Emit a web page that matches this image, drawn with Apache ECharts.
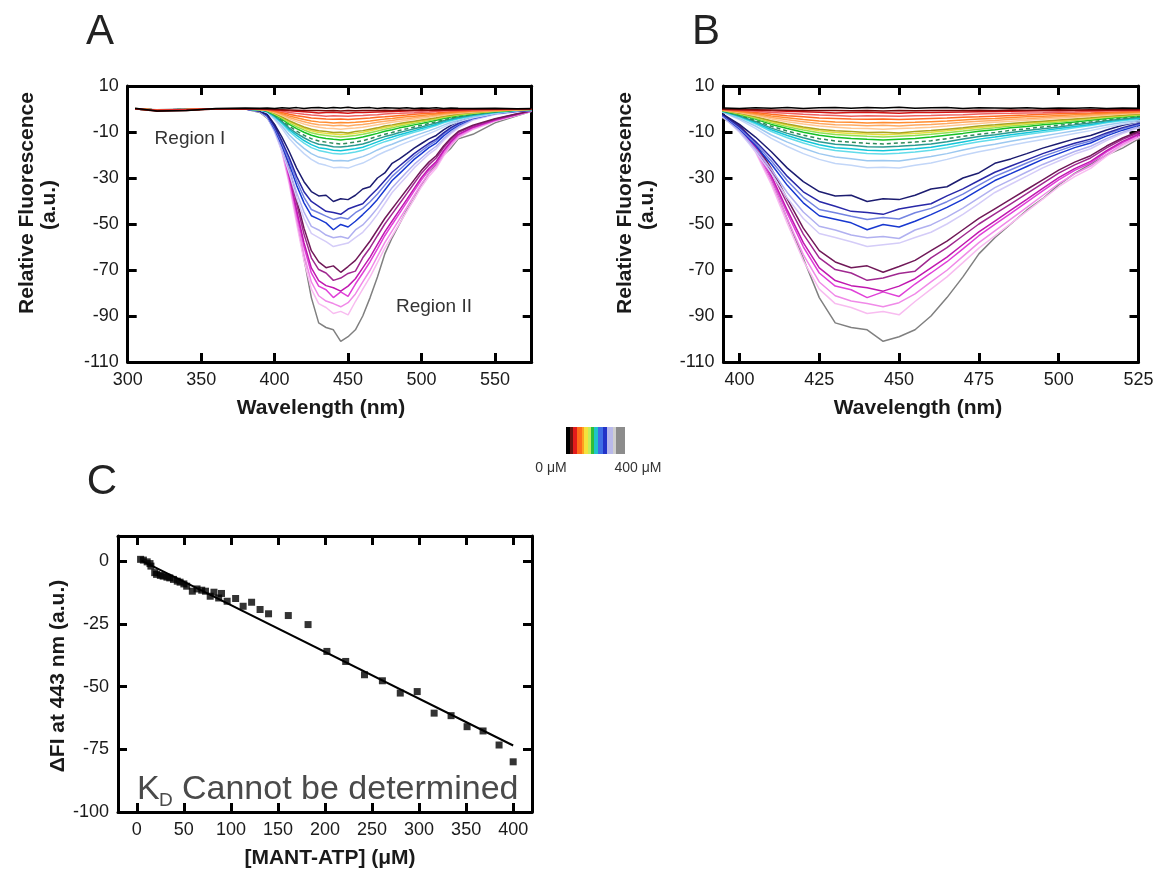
<!DOCTYPE html>
<html>
<head>
<meta charset="utf-8">
<script src="https://cdn.jsdelivr.net/npm/echarts@6/dist/echarts.min.js"></script>
<style>html,body{margin:0;padding:0;background:#fff;}#chart{width:1161px;height:877px;}</style>
</head>
<body>
<div id="chart"></div>
<script>
// ---------- DATA ----------
const wavelengths = [305,320,340,360,380,390,395,400,405,410,415,420,425,430,435,440,445,450,455,460,465,470,475,480,485,490,495,500,505,510,515,520,525,535,550,565,575];

const spec01 = [0.3,-0.9,-0.6,0.2,0.4, 0.3, 0.4,0.2,0.5,0.3,0.6,0.2,0.5,0.7,0.3,0.6,0.4,0.8,0.3,0.5,0.6,0.2,0.5,0.4,0.3,0.5,0.2,0.4,0.3,0.5,0.2,0.4,0.3, 0.2,0.3,0.1,0.2];
const spec02 = [0.1,-1.0,-0.6,0.0,0.1, 0.0, -0.1,-0.2,-0.3,-0.4,-0.5,-0.6,-0.7,-0.6,-0.8,-0.7,-0.9,-0.6,-0.8,-0.7,-0.6,-0.7,-0.5,-0.6,-0.4,-0.5,-0.4,-0.3,-0.4,-0.3,-0.2,-0.3,-0.2, -0.1,0.0,0.0,0.0];
const spec03 = [0.0,-0.6,-0.3,0.1,0.0, 0.0, -0.1,-0.3,-0.5,-0.8,-1.0,-1.2,-1.4,-1.7,-1.5,-1.4,-1.6,-1.8,-1.5,-1.5,-1.4,-1.3,-1.2,-1.1,-1.0,-0.9,-0.8,-0.8,-0.7,-0.6,-0.5,-0.4,-0.4, -0.2,-0.1,0.0,0.0];
const spec04 = [0.1,-0.5,-0.2,0.0,0.1, -0.1, -0.2,-0.5,-1.0,-1.5,-1.9,-2.3,-2.6,-2.8,-3.1,-2.9,-3.0,-3.2,-2.9,-2.8,-2.6,-2.5,-2.2,-2.0,-1.9,-1.7,-1.6,-1.4,-1.3,-1.1,-0.9,-0.8,-0.7, -0.5,-0.2,-0.1,0.0];
const spec05 = [0.1,-0.4,-0.2,0.1,0.0, -0.1, -0.3,-0.8,-1.5,-2.3,-2.9,-3.4,-3.9,-4.1,-4.4,-4.5,-4.3,-4.6,-4.3,-4.1,-3.9,-3.6,-3.4,-3.1,-2.8,-2.6,-2.3,-2.1,-1.9,-1.7,-1.4,-1.2,-1.0, -0.7,-0.4,-0.1,0.0];
const spec06 = [0.2,-0.5,-0.3,0.0,0.1, -0.1, -0.4,-1.1,-2.0,-3.0,-3.8,-4.6,-5.2,-5.6,-5.8,-6.1,-5.9,-6.0,-5.8,-5.5,-5.2,-4.8,-4.4,-4.1,-3.7,-3.4,-3.1,-2.8,-2.5,-2.2,-1.9,-1.6,-1.3, -0.9,-0.5,-0.2,-0.1];
const spec07 = [0.1,-0.4,-0.2,0.1,0.0, -0.1, -0.4,-1.3,-2.4,-3.7,-4.7,-5.5,-6.3,-6.8,-7.0,-7.3,-7.1,-7.4,-7.0,-6.7,-6.3,-5.8,-5.3,-5.0,-4.5,-4.2,-3.8,-3.4,-3.1,-2.7,-2.3,-1.9,-1.6, -1.1,-0.6,-0.2,-0.1];
const spec08 = [0.0,-0.5,-0.3,0.1,0.0, -0.2, -0.5,-1.5,-2.8,-4.3,-5.5,-6.5,-7.4,-7.9,-8.4,-8.5,-8.8,-8.5,-8.3,-7.9,-7.4,-6.8,-6.3,-5.8,-5.3,-4.9,-4.5,-4.0,-3.6,-3.2,-2.7,-2.2,-1.9, -1.3,-0.7,-0.3,-0.1];
const spec09 = [0.1,-0.4,-0.2,0.0,0.1, -0.2, -0.6,-1.8,-3.4,-5.1,-6.5,-7.8,-8.8,-9.5,-9.8,-10.2,-10.1,-10.4,-9.8,-9.4,-8.8,-8.2,-7.4,-6.9,-6.3,-5.8,-5.3,-4.8,-4.3,-3.8,-3.2,-2.7,-2.2, -1.5,-0.8,-0.3,-0.1];
const spec10 = [0.0,-0.5,-0.3,0.1,0.0, -0.2, -0.7,-2.0,-3.6,-5.5,-7.0,-8.4,-9.5,-10.2,-10.6,-10.9,-11.2,-10.9,-10.6,-10.1,-9.5,-8.7,-8.0,-7.5,-6.8,-6.3,-5.7,-5.2,-4.6,-4.1,-3.4,-2.9,-2.4, -1.7,-0.9,-0.3,-0.1];
const spec11 = [0.1,-0.4,-0.2,0.0,0.1, -0.2, -0.7,-2.2,-4.0,-6.0,-7.7,-9.1,-10.3,-11.1,-11.5,-11.9,-12.2,-11.8,-11.5,-11.0,-10.3,-9.6,-8.8,-8.2,-7.4,-6.8,-6.2,-5.6,-5.0,-4.4,-3.7,-3.1,-2.6, -1.8,-1.0,-0.4,-0.1];
const spec12 = [0.0,-0.5,-0.3,0.1,0.0, -0.3, -0.8,-2.4,-4.4,-6.7,-8.5,-10.1,-11.4,-12.3,-12.8,-13.2,-13.5,-13.1,-12.8,-12.2,-11.4,-10.6,-9.7,-9.0,-8.2,-7.6,-6.9,-6.3,-5.6,-4.9,-4.1,-3.5,-2.9, -2.0,-1.1,-0.4,-0.1];
const spec13 = [0.1,-0.4,-0.2,0.0,0.1, -0.3, -0.9,-2.7,-5.0,-7.5,-9.6,-11.4,-12.9,-13.9,-14.4,-14.9,-15.2,-14.8,-14.4,-13.8,-12.9,-11.9,-11.0,-10.2,-9.3,-8.6,-7.8,-7.1,-6.3,-5.6,-4.7,-3.9,-3.3, -2.3,-1.2,-0.5,-0.2];
const spec14 = [0.0,-0.5,-0.3,0.1,0.0, -0.3, -1.0,-3.0,-5.4,-8.3,-10.6,-12.5,-14.2,-15.3,-15.8,-16.4,-16.5,-16.2,-15.8,-15.2,-14.2,-13.0,-12.0,-11.2,-10.2,-9.4,-8.6,-7.8,-6.9,-6.1,-5.1,-4.3,-3.6, -2.5,-1.3,-0.5,-0.2];
const spec15 = [0.1,-0.4,-0.2,0.0,0.1, -0.4, -1.1,-3.2,-5.9,-9.0,-11.5,-13.7,-15.5,-16.8,-17.3,-17.9,-18.2,-17.7,-17.3,-16.6,-15.5,-14.3,-13.1,-12.2,-11.2,-10.3,-9.4,-8.5,-7.6,-6.7,-5.6,-4.7,-4.0, -2.7,-1.4,-0.5,-0.2];
const spec16 = [0.0,-0.5,-0.3,0.1,0.0, -0.4, -1.2,-3.5,-6.4,-9.8,-12.5,-14.8,-16.8,-18.0,-18.7,-19.4,-19.6,-19.2,-18.7,-17.9,-16.8,-15.4,-14.2,-13.3,-12.1,-11.1,-10.1,-9.2,-8.2,-7.2,-6.0,-5.1,-4.3, -2.9,-1.6,-0.6,-0.2];
const spec17 = [0.1,-0.4,-0.2,0.0,0.1, -0.5, -1.4,-4.1,-7.4,-11.3,-14.4,-17.1,-19.4,-20.9,-21.6,-22.5,-22.4,-22.6,-21.6,-20.7,-19.4,-17.8,-16.4,-15.3,-14.0,-12.8,-11.7,-10.6,-9.5,-8.3,-7.0,-5.9,-5.0, -3.4,-1.8,-0.7,-0.2];
const spec18 = [0.0,-0.5,-0.3,0.1,0.0, -0.5, -1.5,-4.6,-8.4,-12.8,-16.3,-19.4,-21.9,-23.7,-24.5,-25.5,-25.3,-25.7,-24.5,-23.5,-21.9,-20.1,-18.6,-17.3,-15.8,-14.5,-13.3,-12.0,-10.7,-9.4,-7.9,-6.6,-5.6, -3.8,-2.0,-0.8,-0.3];
const spec19 = [0.1,-0.4,-0.2,0.0,0.1, -0.8, -2.4,-6.7,-12.2,-18.6,-25.7,-31.6,-35.9,-37.8,-37.5,-40.2,-39.0,-39.4,-37.5,-34.8,-33.8,-30.0,-27.8,-23.6,-21.7,-19.4,-17.0,-15.0,-13.0,-11.5,-9.1,-7.1,-5.5, -3.2,-1.6,-0.8,-0.4];
const spec20 = [0.0,-0.5,-0.3,0.1,0.0, -0.9, -2.7,-7.7,-14.0,-21.2,-29.3,-36.0,-40.2,-42.3,-44.5,-45.0,-45.8,-43.5,-42.3,-41.2,-37.8,-34.7,-31.1,-27.5,-24.8,-22.1,-19.4,-17.1,-14.9,-13.1,-10.4,-8.1,-6.3, -3.6,-1.8,-0.9,-0.5];
const spec21 = [0.1,-0.4,-0.2,0.0,0.1, -1.0, -2.9,-8.2,-14.9,-22.6,-31.2,-38.4,-43.7,-45.1,-46.6,-48.0,-47.2,-47.8,-45.1,-43.2,-40.3,-37.0,-33.1,-29.3,-26.4,-23.5,-20.6,-18.2,-15.8,-13.9,-11.0,-8.6,-6.7, -3.8,-1.9,-1.0,-0.5];
const spec22 = [0.0,-0.5,-0.3,0.1,0.0, -1.0, -3.1,-8.7,-15.8,-24.0,-33.2,-40.8,-46.4,-47.9,-49.5,-52.5,-50.2,-51.3,-48.8,-45.9,-42.8,-39.3,-35.2,-31.1,-28.1,-25.0,-21.9,-19.4,-16.8,-14.8,-11.7,-9.2,-7.1, -4.1,-2.0,-1.0,-0.5];
const spec23 = [0.1,-0.4,-0.2,0.0,0.1, -1.1, -3.4,-9.5,-17.4,-26.3,-36.4,-44.8,-51.0,-52.6,-54.8,-56.0,-55.4,-56.3,-52.6,-50.4,-47.0,-43.1,-38.6,-34.2,-30.8,-27.4,-24.1,-21.3,-18.5,-16.2,-12.9,-10.1,-7.8, -4.5,-2.2,-1.1,-0.6];
const spec24 = [0.0,-0.5,-0.3,0.1,0.0, -1.2, -3.6,-10.1,-18.4,-28.0,-38.7,-47.6,-54.1,-55.9,-57.7,-59.8,-59.0,-58.3,-55.9,-53.6,-50.0,-45.8,-41.1,-36.3,-32.7,-29.2,-25.6,-22.6,-19.6,-17.3,-13.7,-10.7,-8.3, -4.8,-2.4,-1.2,-0.6];
const spec25 = [0.1,-0.4,-0.2,0.0,0.1, -0.7, -2.8,-7.0,-14.7,-25.9,-39.2,-51.8,-61.6,-66.5,-69.0,-68.2,-71.0,-68.5,-65.8,-61.6,-57.4,-52.5,-47.6,-43.4,-39.2,-35.0,-30.8,-26.6,-23.1,-20.3,-16.1,-12.6,-9.8, -7.0,-4.2,-2.1,-0.7];
const spec26 = [0.0,-0.5,-0.3,0.1,0.0, -0.7, -2.9,-7.4,-15.4,-27.2,-41.2,-54.4,-64.7,-69.8,-71.3,-74.5,-73.5,-71.5,-70.5,-64.7,-60.3,-55.1,-50.0,-45.6,-41.2,-36.8,-32.3,-27.9,-24.3,-21.3,-16.9,-13.2,-10.3, -7.4,-4.4,-2.2,-0.7];
const spec27 = [0.1,-0.4,-0.2,0.0,0.1, -0.8, -3.1,-7.9,-16.5,-29.0,-44.0,-58.1,-69.1,-74.6,-76.8,-77.7,-79.2,-77.0,-73.8,-69.1,-64.4,-58.9,-53.4,-48.7,-44.0,-39.3,-34.5,-29.8,-25.9,-22.8,-18.1,-14.1,-11.0, -7.9,-4.7,-2.4,-0.8];
const spec28 = [0.0,-0.5,-0.3,0.1,0.0, -0.8, -3.2,-8.1,-17.0,-30.0,-45.4,-59.9,-71.3,-77.0,-78.6,-82.0,-79.5,-81.5,-76.1,-71.3,-66.4,-60.8,-55.1,-50.2,-45.4,-40.5,-35.6,-30.8,-26.7,-23.5,-18.6,-14.6,-11.3, -8.1,-4.9,-2.4,-0.8];
const spec29 = [0.1,-0.4,-0.2,0.0,0.1, -0.9, -3.4,-8.6,-18.0,-31.6,-47.9,-63.3,-75.2,-81.2,-83.5,-84.6,-86.0,-84.2,-80.4,-75.2,-70.1,-64.1,-58.1,-53.0,-47.9,-42.8,-37.6,-32.5,-28.2,-24.8,-19.7,-15.4,-12.0, -8.6,-5.1,-2.6,-0.9];
const spec30 = [0.0,-0.5,-0.3,0.1,0.0, -0.9, -3.6,-8.9,-18.7,-32.9,-49.8,-65.9,-78.3,-84.6,-86.3,-88.9,-88.0,-89.5,-83.7,-78.3,-73.0,-66.8,-60.5,-55.2,-49.8,-44.5,-39.2,-33.8,-29.4,-25.8,-20.5,-16.0,-12.5, -8.9,-5.3,-2.7,-0.9];
const spec31 = [0.0,-0.3,0.0,0.1,0.0, -1.5, -4.0,-9.0,-18.0,-31.0,-48.0,-65.0,-82.0,-93.0,-95.0,-96.0,-101.0,-99.0,-96.0,-90.0,-82.0,-73.0,-63.0,-56.0,-50.0,-44.0,-39.0,-33.0,-28.0,-24.0,-20.0,-17.0,-13.0, -11.0,-6.0,-3.0,-1.0];

const curveColors = ['#000000','#7a0c0c','#d41414','#f06060','#ff6a22','#ff8c30','#ffaa62','#ffc892','#aaa420','#e6de40','#92e052','#14c024','#2f8a5a','#2a9a90','#12c6d8','#62dcea','#9cc8f0','#c2d6f8',
  '#1c1c70','#2828a8','#7484e2','#1838d0','#b0b0f0','#d4ccf8','#701858','#a02890','#c018b0','#e040d8','#f08ae8','#f8bcf0','#808080'];

const concentration = [4,7,11,14,15,19,21,25,28,32,35,39,43,46,50,53,59,64,69,73,78,82,87,90,96,105,113,122,131,140,161,182,202,222,242,261,280,298,316,334,351,368,385,400];
const deltaFI = [0.7,0.4,-0.3,-1.0,-2.0,-4.6,-5.3,-5.7,-6.0,-6.4,-6.7,-7.3,-8.0,-8.4,-9.1,-10.0,-12.0,-11.1,-11.6,-12.0,-14.0,-12.4,-14.7,-12.9,-16.0,-14.9,-18.0,-16.4,-19.3,-21.0,-21.7,-25.3,-36.0,-40.0,-45.3,-47.7,-52.6,-52.0,-60.6,-61.6,-66.0,-67.7,-73.3,-80.0];
const fitX = [5, 400];
const fitY = [0.2, -73.5];

const ticksAx = [300,350,400,450,500,550];
const ticksBx = [400,425,450,475,500,525];
const ticksABy = [10,-10,-30,-50,-70,-90,-110];
const ticksCx = [0,50,100,150,200,250,300,350,400];
const ticksCy = [0,-25,-50,-75,-100];

// ---------- CHART ----------
const FF = '"Liberation Sans", Arial, Helvetica, sans-serif';
const spectra = [spec01,spec02,spec03,spec04,spec05,spec06,spec07,spec08,spec09,spec10,spec11,spec12,spec13,spec14,spec15,spec16,spec17,spec18,spec19,spec20,spec21,spec22,spec23,spec24,spec25,spec26,spec27,spec28,spec29,spec30,spec31];

function axis(grid, min, max, ticks, pos, labels) {
  return {
    type: 'value', gridIndex: grid, min: min, max: max, position: pos,
    axisLine: { show: true, onZero: false, lineStyle: { color: '#000', width: 3 } },
    axisTick: { show: true, inside: true, length: 9, lineStyle: { color: '#000', width: 3 }, customValues: ticks },
    axisLabel: { show: labels, customValues: ticks, fontSize: 18, color: '#1a1a1a', fontFamily: FF, margin: 9 },
    splitLine: { show: false }
  };
}

const xAxes = [
  axis(0, 300, 575, ticksAx, 'bottom', true),
  axis(0, 300, 575, ticksAx, 'top', false),
  axis(1, 395, 525, ticksBx, 'bottom', true),
  axis(1, 395, 525, ticksBx, 'top', false),
  axis(2, -20, 420, ticksCx, 'bottom', true),
  axis(2, -20, 420, ticksCx, 'top', false)
];
const yAxes = [
  axis(0, -110, 10, ticksABy, 'left', true),
  axis(0, -110, 10, ticksABy, 'right', false),
  axis(1, -110, 10, ticksABy, 'left', true),
  axis(1, -110, 10, ticksABy, 'right', false),
  axis(2, -100, 10, ticksCy, 'left', true),
  axis(2, -100, 10, ticksCy, 'right', false)
];

function spectraSeries(xi, yi) {
  return spectra.map((vals, i) => ({
    type: 'line', xAxisIndex: xi, yAxisIndex: yi,
    data: wavelengths.map((w, j) => [w, vals[j]]),
    symbol: 'none', showSymbol: false, clip: true, animation: false,
    lineStyle: { color: curveColors[i], width: 1.5, type: i === 12 ? [4, 3] : 'solid' },
    z: 2 + (spectra.length - i) * 0.01
  }));
}

const series = [].concat(
  spectraSeries(0, 0),
  spectraSeries(2, 2),
  [{
    type: 'line', xAxisIndex: 4, yAxisIndex: 4,
    data: fitX.map((x, i) => [x, fitY[i]]),
    symbol: 'none', lineStyle: { color: '#000', width: 2 }, animation: false, z: 3
  }, {
    type: 'scatter', xAxisIndex: 4, yAxisIndex: 4,
    data: concentration.map((c, i) => [c, deltaFI[i]]),
    symbol: 'rect', symbolSize: 7, itemStyle: { color: '#000' }, animation: false, z: 4
  }]
);

// colour bar bands (legend)
const barBands = [['#000000',12],['#6a1410',10],['#e31b1b',12],['#ff6a1a',12],['#ffa020',8],['#f5e23c',10],['#c6ee5a',10],['#2fbf3a',10],['#20c4c8',12],['#3f6ee6',14],['#2233c8',12],['#b9b9ea',16],['#cfcfcf',10],['#8c8c8c',27]];
const totalW = barBands.reduce((s, b) => s + b[1], 0);
const stops = [];
let acc = 0;
barBands.forEach(b => {
  stops.push({ offset: acc / totalW, color: b[0] });
  acc += b[1];
  stops.push({ offset: acc / totalW, color: b[0] });
});

function txt(x, y, text, size, opts) {
  opts = opts || {};
  return {
    type: 'text', x: x, y: y, rotation: opts.rot || 0, z: 100,
    style: {
      text: text, fontSize: size, fontWeight: opts.weight || 'normal', fontFamily: FF,
      fill: opts.color || '#1a1a1a', align: opts.align || 'center', verticalAlign: 'middle'
    }
  };
}

const graphics = [
  txt(100, 32, 'A', 42, { color: '#222' }),
  txt(706, 32, 'B', 42, { color: '#222' }),
  txt(102, 482, 'C', 42, { color: '#222' }),
  txt(27, 203, 'Relative Fluorescence', 21, { weight: 'bold', rot: Math.PI / 2 }),
  txt(49, 205, '(a.u.)', 21, { weight: 'bold', rot: Math.PI / 2 }),
  txt(625, 203, 'Relative Fluorescence', 21, { weight: 'bold', rot: Math.PI / 2 }),
  txt(647, 205, '(a.u.)', 21, { weight: 'bold', rot: Math.PI / 2 }),
  txt(321, 408, 'Wavelength (nm)', 21, { weight: 'bold' }),
  txt(918, 408, 'Wavelength (nm)', 21, { weight: 'bold' }),
  txt(58, 676, 'ΔFI at 443 nm (a.u.)', 21, { weight: 'bold', rot: Math.PI / 2 }),
  txt(330, 858, '[MANT-ATP] (μM)', 21, { weight: 'bold' }),
  txt(190, 139, 'Region I', 19, { color: '#333' }),
  txt(434, 307, 'Region II', 19, { color: '#333' }),
  txt(137, 790, 'K', 34, { color: '#4a4a4a', align: 'left' }),
  txt(159, 801, 'D', 19, { color: '#4a4a4a', align: 'left' }),
  txt(182, 790, 'Cannot be determined', 34, { color: '#4a4a4a', align: 'left' }),
  {
    type: 'rect', z: 100,
    shape: { x: 566, y: 427, width: 59, height: 27 },
    style: { fill: { type: 'linear', x: 0, y: 0, x2: 1, y2: 0, colorStops: stops } }
  },
  txt(551, 468, '0 μM', 14, { color: '#333' }),
  txt(638, 468, '400 μM', 14, { color: '#333' })
];

const chart = echarts.init(document.getElementById('chart'), null, { renderer: 'canvas' });
chart.setOption({
  animation: false,
  backgroundColor: '#fff',
  grid: [
    { left: 127.7, top: 86, width: 404, height: 276 },
    { left: 723.5, top: 86, width: 415, height: 276 },
    { left: 118, top: 536, width: 414, height: 276 }
  ],
  xAxis: xAxes,
  yAxis: yAxes,
  series: series,
  graphic: graphics
});
</script>
</body>
</html>
